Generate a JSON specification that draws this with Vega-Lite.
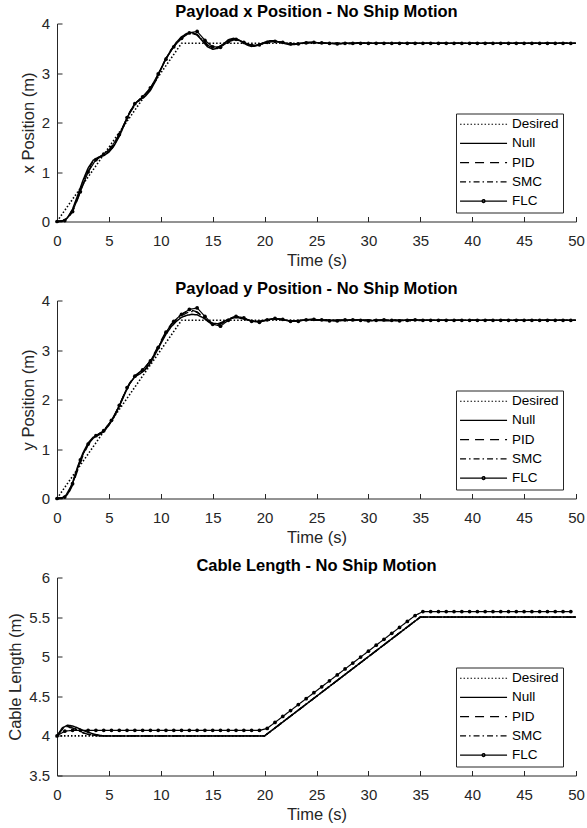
{
"$schema": "https://vega.github.io/schema/vega-lite/v6.json",
"padding": {"top": 3.5, "left": 7, "right": 3, "bottom": 4},
"spacing": 11,
"config": {
  "font": "Liberation Sans",
  "view": {"stroke": null},
  "axis": {"grid": false, "domainColor": "#262626", "tickColor": "#262626", "labelColor": "#262626", "titleColor": "#262626", "labelFontSize": 15, "titleFontSize": 16.5, "titleFontWeight": "normal", "tickSize": -5, "domainWidth": 1, "tickWidth": 1, "labelFlush": false, "labelOverlap": false},
  "axisX": {"labelPadding": 17, "titlePadding": 4},
  "axisY": {"labelPadding": 12.3, "titlePadding": 5},
  "title": {"fontSize": 16.5, "fontWeight": "bold", "color": "black", "offset": -3.5, "anchor": "middle"},
  "legend": {"padding": 4, "strokeColor": "#262626", "fillColor": "white", "symbolSize": 100, "symbolStrokeWidth": 1.2, "symbolOffset": 16.8, "labelOffset": 21.6, "labelFontSize": 13.5, "labelColor": "black", "rowPadding": 4.2, "symbolStrokeColor": "black", "symbolFillColor": "black", "symbolOpacity": 1}
},
"resolve": {"scale": {"y": "independent", "strokeDash": "independent", "shape": "independent"}, "legend": {"strokeDash": "independent", "shape": "independent"}},
"datasets": {
"p1": [
{"s":"Desired","t":0,"v":0},{"s":"Desired","t":12,"v":3.6},{"s":"Desired","t":50,"v":3.6},
{"s":"Null","t":0,"v":0},{"s":"Null","t":0.5,"v":0.01},{"s":"Null","t":1,"v":0.07},{"s":"Null","t":1.5,"v":0.25},{"s":"Null","t":2,"v":0.53},{"s":"Null","t":2.5,"v":0.83},{"s":"Null","t":3,"v":1.08},{"s":"Null","t":3.5,"v":1.24},{"s":"Null","t":4,"v":1.3},{"s":"Null","t":4.5,"v":1.33},{"s":"Null","t":5,"v":1.4},{"s":"Null","t":5.5,"v":1.53},{"s":"Null","t":6,"v":1.72},{"s":"Null","t":6.5,"v":1.96},{"s":"Null","t":7,"v":2.2},{"s":"Null","t":7.5,"v":2.38},{"s":"Null","t":8,"v":2.46},{"s":"Null","t":8.5,"v":2.53},{"s":"Null","t":9,"v":2.65},{"s":"Null","t":9.5,"v":2.84},{"s":"Null","t":10,"v":3.07},{"s":"Null","t":10.5,"v":3.29},{"s":"Null","t":11,"v":3.47},{"s":"Null","t":11.5,"v":3.62},{"s":"Null","t":12,"v":3.73},{"s":"Null","t":12.5,"v":3.8},{"s":"Null","t":13,"v":3.82},{"s":"Null","t":13.5,"v":3.77},{"s":"Null","t":14,"v":3.65},{"s":"Null","t":14.5,"v":3.53},{"s":"Null","t":15,"v":3.48},{"s":"Null","t":15.5,"v":3.5},{"s":"Null","t":16,"v":3.58},{"s":"Null","t":16.5,"v":3.67},{"s":"Null","t":17,"v":3.7},{"s":"Null","t":17.5,"v":3.67},{"s":"Null","t":18,"v":3.6},{"s":"Null","t":18.5,"v":3.55},{"s":"Null","t":19,"v":3.54},{"s":"Null","t":19.5,"v":3.57},{"s":"Null","t":20,"v":3.62},{"s":"Null","t":20.5,"v":3.65},{"s":"Null","t":21,"v":3.65},{"s":"Null","t":21.5,"v":3.62},{"s":"Null","t":22,"v":3.59},{"s":"Null","t":22.5,"v":3.57},{"s":"Null","t":23,"v":3.58},{"s":"Null","t":23.5,"v":3.6},{"s":"Null","t":24,"v":3.62},{"s":"Null","t":24.5,"v":3.62},{"s":"Null","t":25,"v":3.61},{"s":"Null","t":26,"v":3.6},{"s":"Null","t":27,"v":3.59},{"s":"Null","t":28,"v":3.6},{"s":"Null","t":29,"v":3.61},{"s":"Null","t":30,"v":3.6},{"s":"Null","t":32,"v":3.6},{"s":"Null","t":34,"v":3.6},{"s":"Null","t":36,"v":3.6},{"s":"Null","t":38,"v":3.6},{"s":"Null","t":40,"v":3.6},{"s":"Null","t":42,"v":3.6},{"s":"Null","t":44,"v":3.6},{"s":"Null","t":46,"v":3.6},{"s":"Null","t":48,"v":3.6},{"s":"Null","t":50,"v":3.6},
{"s":"PID","t":0,"v":0},{"s":"PID","t":0.5,"v":0.01},{"s":"PID","t":1,"v":0.05},{"s":"PID","t":1.5,"v":0.2},{"s":"PID","t":2,"v":0.46},{"s":"PID","t":2.5,"v":0.75},{"s":"PID","t":3,"v":1.01},{"s":"PID","t":3.5,"v":1.19},{"s":"PID","t":4,"v":1.28},{"s":"PID","t":4.5,"v":1.34},{"s":"PID","t":5,"v":1.43},{"s":"PID","t":5.5,"v":1.57},{"s":"PID","t":6,"v":1.76},{"s":"PID","t":6.5,"v":1.98},{"s":"PID","t":7,"v":2.19},{"s":"PID","t":7.5,"v":2.35},{"s":"PID","t":8,"v":2.46},{"s":"PID","t":8.5,"v":2.56},{"s":"PID","t":9,"v":2.69},{"s":"PID","t":9.5,"v":2.87},{"s":"PID","t":10,"v":3.09},{"s":"PID","t":10.5,"v":3.3},{"s":"PID","t":11,"v":3.47},{"s":"PID","t":11.5,"v":3.6},{"s":"PID","t":12,"v":3.71},{"s":"PID","t":12.5,"v":3.78},{"s":"PID","t":13,"v":3.8},{"s":"PID","t":13.5,"v":3.77},{"s":"PID","t":14,"v":3.67},{"s":"PID","t":14.5,"v":3.56},{"s":"PID","t":15,"v":3.51},{"s":"PID","t":15.5,"v":3.52},{"s":"PID","t":16,"v":3.58},{"s":"PID","t":16.5,"v":3.65},{"s":"PID","t":17,"v":3.68},{"s":"PID","t":17.5,"v":3.66},{"s":"PID","t":18,"v":3.61},{"s":"PID","t":18.5,"v":3.57},{"s":"PID","t":19,"v":3.56},{"s":"PID","t":19.5,"v":3.58},{"s":"PID","t":20,"v":3.61},{"s":"PID","t":20.5,"v":3.63},{"s":"PID","t":21,"v":3.64},{"s":"PID","t":21.5,"v":3.62},{"s":"PID","t":22,"v":3.6},{"s":"PID","t":22.5,"v":3.58},{"s":"PID","t":23,"v":3.59},{"s":"PID","t":23.5,"v":3.6},{"s":"PID","t":24,"v":3.61},{"s":"PID","t":24.5,"v":3.61},{"s":"PID","t":25,"v":3.6},{"s":"PID","t":26,"v":3.6},{"s":"PID","t":27,"v":3.6},{"s":"PID","t":28,"v":3.59},{"s":"PID","t":29,"v":3.6},{"s":"PID","t":30,"v":3.6},{"s":"PID","t":32,"v":3.6},{"s":"PID","t":34,"v":3.6},{"s":"PID","t":36,"v":3.6},{"s":"PID","t":38,"v":3.6},{"s":"PID","t":40,"v":3.6},{"s":"PID","t":42,"v":3.6},{"s":"PID","t":44,"v":3.6},{"s":"PID","t":46,"v":3.6},{"s":"PID","t":48,"v":3.6},{"s":"PID","t":50,"v":3.6},
{"s":"SMC","t":0,"v":0},{"s":"SMC","t":0.5,"v":0.01},{"s":"SMC","t":1,"v":0.06},{"s":"SMC","t":1.5,"v":0.23},{"s":"SMC","t":2,"v":0.5},{"s":"SMC","t":2.5,"v":0.79},{"s":"SMC","t":3,"v":1.05},{"s":"SMC","t":3.5,"v":1.22},{"s":"SMC","t":4,"v":1.3},{"s":"SMC","t":4.5,"v":1.35},{"s":"SMC","t":5,"v":1.42},{"s":"SMC","t":5.5,"v":1.55},{"s":"SMC","t":6,"v":1.74},{"s":"SMC","t":6.5,"v":1.97},{"s":"SMC","t":7,"v":2.21},{"s":"SMC","t":7.5,"v":2.38},{"s":"SMC","t":8,"v":2.48},{"s":"SMC","t":8.5,"v":2.55},{"s":"SMC","t":9,"v":2.66},{"s":"SMC","t":9.5,"v":2.85},{"s":"SMC","t":10,"v":3.08},{"s":"SMC","t":10.5,"v":3.29},{"s":"SMC","t":11,"v":3.46},{"s":"SMC","t":11.5,"v":3.6},{"s":"SMC","t":12,"v":3.71},{"s":"SMC","t":12.5,"v":3.79},{"s":"SMC","t":13,"v":3.81},{"s":"SMC","t":13.5,"v":3.78},{"s":"SMC","t":14,"v":3.68},{"s":"SMC","t":14.5,"v":3.57},{"s":"SMC","t":15,"v":3.51},{"s":"SMC","t":15.5,"v":3.52},{"s":"SMC","t":16,"v":3.57},{"s":"SMC","t":16.5,"v":3.64},{"s":"SMC","t":17,"v":3.68},{"s":"SMC","t":17.5,"v":3.67},{"s":"SMC","t":18,"v":3.62},{"s":"SMC","t":18.5,"v":3.57},{"s":"SMC","t":19,"v":3.55},{"s":"SMC","t":19.5,"v":3.57},{"s":"SMC","t":20,"v":3.6},{"s":"SMC","t":20.5,"v":3.63},{"s":"SMC","t":21,"v":3.64},{"s":"SMC","t":21.5,"v":3.63},{"s":"SMC","t":22,"v":3.6},{"s":"SMC","t":22.5,"v":3.58},{"s":"SMC","t":23,"v":3.58},{"s":"SMC","t":23.5,"v":3.59},{"s":"SMC","t":24,"v":3.61},{"s":"SMC","t":24.5,"v":3.62},{"s":"SMC","t":25,"v":3.61},{"s":"SMC","t":26,"v":3.6},{"s":"SMC","t":27,"v":3.6},{"s":"SMC","t":28,"v":3.6},{"s":"SMC","t":29,"v":3.6},{"s":"SMC","t":30,"v":3.6},{"s":"SMC","t":32,"v":3.6},{"s":"SMC","t":34,"v":3.6},{"s":"SMC","t":36,"v":3.6},{"s":"SMC","t":38,"v":3.6},{"s":"SMC","t":40,"v":3.6},{"s":"SMC","t":42,"v":3.6},{"s":"SMC","t":44,"v":3.6},{"s":"SMC","t":46,"v":3.6},{"s":"SMC","t":48,"v":3.6},{"s":"SMC","t":50,"v":3.6},
{"s":"FLC","t":0,"v":0},{"s":"FLC","t":0.75,"v":0.02},{"s":"FLC","t":1.5,"v":0.2},{"s":"FLC","t":2.25,"v":0.6},{"s":"FLC","t":3,"v":1.0},{"s":"FLC","t":3.75,"v":1.25},{"s":"FLC","t":4.5,"v":1.36},{"s":"FLC","t":5.25,"v":1.5},{"s":"FLC","t":6,"v":1.76},{"s":"FLC","t":6.75,"v":2.1},{"s":"FLC","t":7.5,"v":2.38},{"s":"FLC","t":8.25,"v":2.52},{"s":"FLC","t":9,"v":2.7},{"s":"FLC","t":9.75,"v":2.98},{"s":"FLC","t":10.5,"v":3.28},{"s":"FLC","t":11.25,"v":3.53},{"s":"FLC","t":12,"v":3.7},{"s":"FLC","t":12.75,"v":3.81},{"s":"FLC","t":13.5,"v":3.84},{"s":"FLC","t":14.25,"v":3.66},{"s":"FLC","t":15,"v":3.53},{"s":"FLC","t":15.75,"v":3.52},{"s":"FLC","t":16.5,"v":3.63},{"s":"FLC","t":17.25,"v":3.68},{"s":"FLC","t":18,"v":3.62},{"s":"FLC","t":18.75,"v":3.56},{"s":"FLC","t":19.5,"v":3.57},{"s":"FLC","t":20.25,"v":3.62},{"s":"FLC","t":21,"v":3.64},{"s":"FLC","t":21.75,"v":3.62},{"s":"FLC","t":22.5,"v":3.59},{"s":"FLC","t":23.25,"v":3.59},{"s":"FLC","t":24,"v":3.61},{"s":"FLC","t":24.75,"v":3.62},{"s":"FLC","t":25.5,"v":3.61},{"s":"FLC","t":26.25,"v":3.6},{"s":"FLC","t":27,"v":3.59},{"s":"FLC","t":27.75,"v":3.6},{"s":"FLC","t":28.5,"v":3.6},{"s":"FLC","t":29.25,"v":3.6},{"s":"FLC","t":30,"v":3.6},{"s":"FLC","t":30.75,"v":3.6},{"s":"FLC","t":31.5,"v":3.6},{"s":"FLC","t":32.25,"v":3.6},{"s":"FLC","t":33,"v":3.6},{"s":"FLC","t":33.75,"v":3.6},{"s":"FLC","t":34.5,"v":3.6},{"s":"FLC","t":35.25,"v":3.6},{"s":"FLC","t":36,"v":3.6},{"s":"FLC","t":36.75,"v":3.6},{"s":"FLC","t":37.5,"v":3.6},{"s":"FLC","t":38.25,"v":3.6},{"s":"FLC","t":39,"v":3.6},{"s":"FLC","t":39.75,"v":3.6},{"s":"FLC","t":40.5,"v":3.6},{"s":"FLC","t":41.25,"v":3.6},{"s":"FLC","t":42,"v":3.6},{"s":"FLC","t":42.75,"v":3.6},{"s":"FLC","t":43.5,"v":3.6},{"s":"FLC","t":44.25,"v":3.6},{"s":"FLC","t":45,"v":3.6},{"s":"FLC","t":45.75,"v":3.6},{"s":"FLC","t":46.5,"v":3.6},{"s":"FLC","t":47.25,"v":3.6},{"s":"FLC","t":48,"v":3.6},{"s":"FLC","t":48.75,"v":3.6},{"s":"FLC","t":49.5,"v":3.6}
],
"p2": [
{"s":"Desired","t":0,"v":0},{"s":"Desired","t":12,"v":3.6},{"s":"Desired","t":50,"v":3.6},
{"s":"Null","t":0,"v":0},{"s":"Null","t":0.5,"v":0.01},{"s":"Null","t":1,"v":0.08},{"s":"Null","t":1.5,"v":0.32},{"s":"Null","t":2,"v":0.65},{"s":"Null","t":2.5,"v":0.92},{"s":"Null","t":3,"v":1.12},{"s":"Null","t":3.5,"v":1.24},{"s":"Null","t":4,"v":1.28},{"s":"Null","t":4.5,"v":1.35},{"s":"Null","t":5,"v":1.48},{"s":"Null","t":5.5,"v":1.65},{"s":"Null","t":6,"v":1.86},{"s":"Null","t":6.5,"v":2.1},{"s":"Null","t":7,"v":2.32},{"s":"Null","t":7.5,"v":2.46},{"s":"Null","t":8,"v":2.52},{"s":"Null","t":8.5,"v":2.6},{"s":"Null","t":9,"v":2.74},{"s":"Null","t":9.5,"v":2.93},{"s":"Null","t":10,"v":3.13},{"s":"Null","t":10.5,"v":3.32},{"s":"Null","t":11,"v":3.47},{"s":"Null","t":11.5,"v":3.58},{"s":"Null","t":12,"v":3.66},{"s":"Null","t":12.5,"v":3.7},{"s":"Null","t":13,"v":3.72},{"s":"Null","t":13.5,"v":3.71},{"s":"Null","t":14,"v":3.66},{"s":"Null","t":14.5,"v":3.6},{"s":"Null","t":15,"v":3.54},{"s":"Null","t":15.5,"v":3.53},{"s":"Null","t":16,"v":3.57},{"s":"Null","t":16.5,"v":3.62},{"s":"Null","t":17,"v":3.65},{"s":"Null","t":17.5,"v":3.65},{"s":"Null","t":18,"v":3.63},{"s":"Null","t":18.5,"v":3.6},{"s":"Null","t":19,"v":3.58},{"s":"Null","t":19.5,"v":3.58},{"s":"Null","t":20,"v":3.6},{"s":"Null","t":20.5,"v":3.62},{"s":"Null","t":21,"v":3.63},{"s":"Null","t":21.5,"v":3.62},{"s":"Null","t":22,"v":3.6},{"s":"Null","t":22.5,"v":3.59},{"s":"Null","t":23,"v":3.59},{"s":"Null","t":23.5,"v":3.6},{"s":"Null","t":24,"v":3.61},{"s":"Null","t":24.5,"v":3.61},{"s":"Null","t":25,"v":3.6},{"s":"Null","t":26,"v":3.61},{"s":"Null","t":27,"v":3.59},{"s":"Null","t":28,"v":3.6},{"s":"Null","t":29,"v":3.61},{"s":"Null","t":30,"v":3.6},{"s":"Null","t":32,"v":3.59},{"s":"Null","t":34,"v":3.61},{"s":"Null","t":36,"v":3.6},{"s":"Null","t":38,"v":3.6},{"s":"Null","t":40,"v":3.6},{"s":"Null","t":42,"v":3.6},{"s":"Null","t":44,"v":3.6},{"s":"Null","t":46,"v":3.6},{"s":"Null","t":48,"v":3.6},{"s":"Null","t":50,"v":3.6},
{"s":"PID","t":0,"v":0},{"s":"PID","t":0.5,"v":0.01},{"s":"PID","t":1,"v":0.06},{"s":"PID","t":1.5,"v":0.27},{"s":"PID","t":2,"v":0.58},{"s":"PID","t":2.5,"v":0.87},{"s":"PID","t":3,"v":1.08},{"s":"PID","t":3.5,"v":1.22},{"s":"PID","t":4,"v":1.3},{"s":"PID","t":4.5,"v":1.38},{"s":"PID","t":5,"v":1.5},{"s":"PID","t":5.5,"v":1.66},{"s":"PID","t":6,"v":1.88},{"s":"PID","t":6.5,"v":2.12},{"s":"PID","t":7,"v":2.33},{"s":"PID","t":7.5,"v":2.48},{"s":"PID","t":8,"v":2.56},{"s":"PID","t":8.5,"v":2.65},{"s":"PID","t":9,"v":2.79},{"s":"PID","t":9.5,"v":2.98},{"s":"PID","t":10,"v":3.18},{"s":"PID","t":10.5,"v":3.37},{"s":"PID","t":11,"v":3.52},{"s":"PID","t":11.5,"v":3.64},{"s":"PID","t":12,"v":3.72},{"s":"PID","t":12.5,"v":3.78},{"s":"PID","t":13,"v":3.8},{"s":"PID","t":13.5,"v":3.77},{"s":"PID","t":14,"v":3.68},{"s":"PID","t":14.5,"v":3.58},{"s":"PID","t":15,"v":3.51},{"s":"PID","t":15.5,"v":3.5},{"s":"PID","t":16,"v":3.55},{"s":"PID","t":16.5,"v":3.62},{"s":"PID","t":17,"v":3.67},{"s":"PID","t":17.5,"v":3.67},{"s":"PID","t":18,"v":3.64},{"s":"PID","t":18.5,"v":3.6},{"s":"PID","t":19,"v":3.57},{"s":"PID","t":19.5,"v":3.57},{"s":"PID","t":20,"v":3.59},{"s":"PID","t":20.5,"v":3.62},{"s":"PID","t":21,"v":3.63},{"s":"PID","t":21.5,"v":3.62},{"s":"PID","t":22,"v":3.6},{"s":"PID","t":22.5,"v":3.58},{"s":"PID","t":23,"v":3.58},{"s":"PID","t":23.5,"v":3.6},{"s":"PID","t":24,"v":3.61},{"s":"PID","t":24.5,"v":3.62},{"s":"PID","t":25,"v":3.61},{"s":"PID","t":26,"v":3.59},{"s":"PID","t":27,"v":3.6},{"s":"PID","t":28,"v":3.61},{"s":"PID","t":29,"v":3.6},{"s":"PID","t":30,"v":3.59},{"s":"PID","t":32,"v":3.61},{"s":"PID","t":34,"v":3.6},{"s":"PID","t":36,"v":3.6},{"s":"PID","t":38,"v":3.6},{"s":"PID","t":40,"v":3.6},{"s":"PID","t":42,"v":3.6},{"s":"PID","t":44,"v":3.6},{"s":"PID","t":46,"v":3.6},{"s":"PID","t":48,"v":3.6},{"s":"PID","t":50,"v":3.6},
{"s":"SMC","t":0,"v":0},{"s":"SMC","t":0.5,"v":0.01},{"s":"SMC","t":1,"v":0.07},{"s":"SMC","t":1.5,"v":0.3},{"s":"SMC","t":2,"v":0.62},{"s":"SMC","t":2.5,"v":0.9},{"s":"SMC","t":3,"v":1.1},{"s":"SMC","t":3.5,"v":1.23},{"s":"SMC","t":4,"v":1.29},{"s":"SMC","t":4.5,"v":1.36},{"s":"SMC","t":5,"v":1.49},{"s":"SMC","t":5.5,"v":1.66},{"s":"SMC","t":6,"v":1.87},{"s":"SMC","t":6.5,"v":2.11},{"s":"SMC","t":7,"v":2.33},{"s":"SMC","t":7.5,"v":2.47},{"s":"SMC","t":8,"v":2.54},{"s":"SMC","t":8.5,"v":2.62},{"s":"SMC","t":9,"v":2.76},{"s":"SMC","t":9.5,"v":2.95},{"s":"SMC","t":10,"v":3.15},{"s":"SMC","t":10.5,"v":3.34},{"s":"SMC","t":11,"v":3.5},{"s":"SMC","t":11.5,"v":3.61},{"s":"SMC","t":12,"v":3.69},{"s":"SMC","t":12.5,"v":3.75},{"s":"SMC","t":13,"v":3.78},{"s":"SMC","t":13.5,"v":3.76},{"s":"SMC","t":14,"v":3.68},{"s":"SMC","t":14.5,"v":3.59},{"s":"SMC","t":15,"v":3.52},{"s":"SMC","t":15.5,"v":3.52},{"s":"SMC","t":16,"v":3.56},{"s":"SMC","t":16.5,"v":3.62},{"s":"SMC","t":17,"v":3.66},{"s":"SMC","t":17.5,"v":3.66},{"s":"SMC","t":18,"v":3.63},{"s":"SMC","t":18.5,"v":3.6},{"s":"SMC","t":19,"v":3.58},{"s":"SMC","t":19.5,"v":3.58},{"s":"SMC","t":20,"v":3.6},{"s":"SMC","t":20.5,"v":3.62},{"s":"SMC","t":21,"v":3.63},{"s":"SMC","t":21.5,"v":3.62},{"s":"SMC","t":22,"v":3.6},{"s":"SMC","t":22.5,"v":3.59},{"s":"SMC","t":23,"v":3.59},{"s":"SMC","t":23.5,"v":3.6},{"s":"SMC","t":24,"v":3.61},{"s":"SMC","t":24.5,"v":3.61},{"s":"SMC","t":25,"v":3.6},{"s":"SMC","t":26,"v":3.6},{"s":"SMC","t":27,"v":3.61},{"s":"SMC","t":28,"v":3.59},{"s":"SMC","t":29,"v":3.6},{"s":"SMC","t":30,"v":3.61},{"s":"SMC","t":32,"v":3.6},{"s":"SMC","t":34,"v":3.59},{"s":"SMC","t":36,"v":3.6},{"s":"SMC","t":38,"v":3.6},{"s":"SMC","t":40,"v":3.6},{"s":"SMC","t":42,"v":3.6},{"s":"SMC","t":44,"v":3.6},{"s":"SMC","t":46,"v":3.6},{"s":"SMC","t":48,"v":3.6},{"s":"SMC","t":50,"v":3.6},
{"s":"FLC","t":0,"v":0},{"s":"FLC","t":0.75,"v":0.03},{"s":"FLC","t":1.5,"v":0.3},{"s":"FLC","t":2.25,"v":0.78},{"s":"FLC","t":3,"v":1.1},{"s":"FLC","t":3.75,"v":1.27},{"s":"FLC","t":4.5,"v":1.37},{"s":"FLC","t":5.25,"v":1.58},{"s":"FLC","t":6,"v":1.88},{"s":"FLC","t":6.75,"v":2.24},{"s":"FLC","t":7.5,"v":2.47},{"s":"FLC","t":8.25,"v":2.6},{"s":"FLC","t":9,"v":2.78},{"s":"FLC","t":9.75,"v":3.05},{"s":"FLC","t":10.5,"v":3.36},{"s":"FLC","t":11.25,"v":3.58},{"s":"FLC","t":12,"v":3.72},{"s":"FLC","t":12.75,"v":3.82},{"s":"FLC","t":13.5,"v":3.85},{"s":"FLC","t":14.25,"v":3.68},{"s":"FLC","t":15,"v":3.52},{"s":"FLC","t":15.75,"v":3.48},{"s":"FLC","t":16.5,"v":3.6},{"s":"FLC","t":17.25,"v":3.68},{"s":"FLC","t":18,"v":3.65},{"s":"FLC","t":18.75,"v":3.58},{"s":"FLC","t":19.5,"v":3.56},{"s":"FLC","t":20.25,"v":3.61},{"s":"FLC","t":21,"v":3.64},{"s":"FLC","t":21.75,"v":3.62},{"s":"FLC","t":22.5,"v":3.58},{"s":"FLC","t":23.25,"v":3.58},{"s":"FLC","t":24,"v":3.61},{"s":"FLC","t":24.75,"v":3.62},{"s":"FLC","t":25.5,"v":3.61},{"s":"FLC","t":26.25,"v":3.59},{"s":"FLC","t":27,"v":3.59},{"s":"FLC","t":27.75,"v":3.61},{"s":"FLC","t":28.5,"v":3.61},{"s":"FLC","t":29.25,"v":3.6},{"s":"FLC","t":30,"v":3.59},{"s":"FLC","t":30.75,"v":3.6},{"s":"FLC","t":31.5,"v":3.61},{"s":"FLC","t":32.25,"v":3.6},{"s":"FLC","t":33,"v":3.59},{"s":"FLC","t":33.75,"v":3.6},{"s":"FLC","t":34.5,"v":3.61},{"s":"FLC","t":35.25,"v":3.6},{"s":"FLC","t":36,"v":3.6},{"s":"FLC","t":36.75,"v":3.6},{"s":"FLC","t":37.5,"v":3.6},{"s":"FLC","t":38.25,"v":3.6},{"s":"FLC","t":39,"v":3.6},{"s":"FLC","t":39.75,"v":3.6},{"s":"FLC","t":40.5,"v":3.6},{"s":"FLC","t":41.25,"v":3.6},{"s":"FLC","t":42,"v":3.6},{"s":"FLC","t":42.75,"v":3.6},{"s":"FLC","t":43.5,"v":3.6},{"s":"FLC","t":44.25,"v":3.6},{"s":"FLC","t":45,"v":3.6},{"s":"FLC","t":45.75,"v":3.6},{"s":"FLC","t":46.5,"v":3.6},{"s":"FLC","t":47.25,"v":3.6},{"s":"FLC","t":48,"v":3.6},{"s":"FLC","t":48.75,"v":3.6},{"s":"FLC","t":49.5,"v":3.6}
],
"p3": [
{"s":"Desired","t":0,"v":4},{"s":"Desired","t":20,"v":4},{"s":"Desired","t":35,"v":5.5},{"s":"Desired","t":50,"v":5.5},
{"s":"Null","t":0,"v":4},{"s":"Null","t":0.5,"v":4.1},{"s":"Null","t":1,"v":4.135},{"s":"Null","t":1.5,"v":4.125},{"s":"Null","t":2,"v":4.1},{"s":"Null","t":2.5,"v":4.07},{"s":"Null","t":3,"v":4.045},{"s":"Null","t":3.5,"v":4.025},{"s":"Null","t":4,"v":4.01},{"s":"Null","t":4.5,"v":4.0},{"s":"Null","t":20,"v":4.0},{"s":"Null","t":35,"v":5.5},{"s":"Null","t":50,"v":5.5},
{"s":"PID","t":0,"v":4},{"s":"PID","t":0.5,"v":4.08},{"s":"PID","t":1,"v":4.11},{"s":"PID","t":1.5,"v":4.1},{"s":"PID","t":2,"v":4.07},{"s":"PID","t":2.5,"v":4.04},{"s":"PID","t":3,"v":4.02},{"s":"PID","t":4,"v":4.0},{"s":"PID","t":20,"v":4.0},{"s":"PID","t":35,"v":5.5},{"s":"PID","t":50,"v":5.5},
{"s":"SMC","t":0,"v":4},{"s":"SMC","t":0.5,"v":4.09},{"s":"SMC","t":1,"v":4.12},{"s":"SMC","t":1.5,"v":4.11},{"s":"SMC","t":2,"v":4.08},{"s":"SMC","t":2.5,"v":4.04},{"s":"SMC","t":3,"v":4.02},{"s":"SMC","t":4,"v":4.0},{"s":"SMC","t":20,"v":4.0},{"s":"SMC","t":35,"v":5.5},{"s":"SMC","t":50,"v":5.5},
{"s":"FLC","t":0,"v":4},{"s":"FLC","t":0.75,"v":4.06},{"s":"FLC","t":1.5,"v":4.07},{"s":"FLC","t":2.25,"v":4.07},{"s":"FLC","t":3,"v":4.07},{"s":"FLC","t":3.75,"v":4.07},{"s":"FLC","t":4.5,"v":4.07},{"s":"FLC","t":5.25,"v":4.07},{"s":"FLC","t":6,"v":4.07},{"s":"FLC","t":6.75,"v":4.07},{"s":"FLC","t":7.5,"v":4.07},{"s":"FLC","t":8.25,"v":4.07},{"s":"FLC","t":9,"v":4.07},{"s":"FLC","t":9.75,"v":4.07},{"s":"FLC","t":10.5,"v":4.07},{"s":"FLC","t":11.25,"v":4.07},{"s":"FLC","t":12,"v":4.07},{"s":"FLC","t":12.75,"v":4.07},{"s":"FLC","t":13.5,"v":4.07},{"s":"FLC","t":14.25,"v":4.07},{"s":"FLC","t":15,"v":4.07},{"s":"FLC","t":15.75,"v":4.07},{"s":"FLC","t":16.5,"v":4.07},{"s":"FLC","t":17.25,"v":4.07},{"s":"FLC","t":18,"v":4.07},{"s":"FLC","t":18.75,"v":4.07},{"s":"FLC","t":19.5,"v":4.07},{"s":"FLC","t":20.25,"v":4.095},{"s":"FLC","t":21,"v":4.17},{"s":"FLC","t":21.75,"v":4.245},{"s":"FLC","t":22.5,"v":4.32},{"s":"FLC","t":23.25,"v":4.395},{"s":"FLC","t":24,"v":4.47},{"s":"FLC","t":24.75,"v":4.545},{"s":"FLC","t":25.5,"v":4.62},{"s":"FLC","t":26.25,"v":4.695},{"s":"FLC","t":27,"v":4.77},{"s":"FLC","t":27.75,"v":4.845},{"s":"FLC","t":28.5,"v":4.92},{"s":"FLC","t":29.25,"v":4.995},{"s":"FLC","t":30,"v":5.07},{"s":"FLC","t":30.75,"v":5.145},{"s":"FLC","t":31.5,"v":5.22},{"s":"FLC","t":32.25,"v":5.295},{"s":"FLC","t":33,"v":5.37},{"s":"FLC","t":33.75,"v":5.445},{"s":"FLC","t":34.5,"v":5.52},{"s":"FLC","t":35.25,"v":5.57},{"s":"FLC","t":36,"v":5.57},{"s":"FLC","t":36.75,"v":5.57},{"s":"FLC","t":37.5,"v":5.57},{"s":"FLC","t":38.25,"v":5.57},{"s":"FLC","t":39,"v":5.57},{"s":"FLC","t":39.75,"v":5.57},{"s":"FLC","t":40.5,"v":5.57},{"s":"FLC","t":41.25,"v":5.57},{"s":"FLC","t":42,"v":5.57},{"s":"FLC","t":42.75,"v":5.57},{"s":"FLC","t":43.5,"v":5.57},{"s":"FLC","t":44.25,"v":5.57},{"s":"FLC","t":45,"v":5.57},{"s":"FLC","t":45.75,"v":5.57},{"s":"FLC","t":46.5,"v":5.57},{"s":"FLC","t":47.25,"v":5.57},{"s":"FLC","t":48,"v":5.57},{"s":"FLC","t":48.75,"v":5.57},{"s":"FLC","t":49.5,"v":5.57}
]
},
"vconcat": [
{
 "width": 519, "height": 198,
 "title": "Payload x Position - No Ship Motion",
 "data": {"name": "p1"},
 "layer": [
  {"mark": {"type": "line", "color": "black", "opacity": 1},
   "encoding": {
    "x": {"field": "t", "type": "quantitative", "scale": {"domain": [0, 50], "nice": false}, "axis": {"title": "Time (s)", "values": [0,5,10,15,20,25,30,35,40,45,50], "tickCount": 12, "format": "~g", "labelOverlap": false}},
    "y": {"field": "v", "type": "quantitative", "scale": {"domain": [0, 4], "nice": false, "zero": false}, "axis": {"title": "x Position (m)", "values": [0,1,2,3,4], "tickCount": 12, "format": "~g", "labelOverlap": false}},
    "strokeDash": {"field": "s", "type": "nominal", "scale": {"domain": ["Desired","Null","PID","SMC","FLC"], "range": [[1.5,2],[1,0],[9,6],[6,3,1.5,3],[1,0]]}, "legend": {"title": null, "orient": "none", "legendX": 399, "legendY": 90}},
    "strokeWidth": {"field": "s", "type": "nominal", "scale": {"domain": ["Desired","Null","PID","SMC","FLC"], "range": [1.6,1.2,1.2,1.2,1.2]}, "legend": null}
   }},
  {"transform": [{"filter": "datum.s == 'FLC'"}], "mark": {"type": "circle", "color": "black", "size": 14, "opacity": 1},
   "encoding": {"x": {"field": "t", "type": "quantitative"}, "y": {"field": "v", "type": "quantitative"}}},
  {"data": {"values": []}, "mark": {"type": "point", "opacity": 1, "color": "black"},
   "encoding": {"shape": {"field": "s", "type": "nominal", "scale": {"domain": ["Desired","Null","PID","SMC","FLC"], "range": ["M-4.7,0H4.7","M-4.7,0H4.7","M-4.7,0H4.7","M-4.7,0H4.7","M-4.7,0H4.7M-0.3,0A0.3,0.3,0,1,0,0.3,0A0.3,0.3,0,1,0,-0.3,0"]}, "legend": {"title": null, "orient": "none", "legendX": 399, "legendY": 90}}}}
 ]
},
{
 "width": 519, "height": 198,
 "title": "Payload y Position - No Ship Motion",
 "data": {"name": "p2"},
 "layer": [
  {"mark": {"type": "line", "color": "black", "opacity": 1},
   "encoding": {
    "x": {"field": "t", "type": "quantitative", "scale": {"domain": [0, 50], "nice": false}, "axis": {"title": "Time (s)", "values": [0,5,10,15,20,25,30,35,40,45,50], "tickCount": 12, "format": "~g", "labelOverlap": false}},
    "y": {"field": "v", "type": "quantitative", "scale": {"domain": [0, 4], "nice": false, "zero": false}, "axis": {"title": "y Position (m)", "values": [0,1,2,3,4], "tickCount": 12, "format": "~g", "labelOverlap": false}},
    "strokeDash": {"field": "s", "type": "nominal", "scale": {"domain": ["Desired","Null","PID","SMC","FLC"], "range": [[1.5,2],[1,0],[9,6],[6,3,1.5,3],[1,0]]}, "legend": {"title": null, "orient": "none", "legendX": 399, "legendY": 90}},
    "strokeWidth": {"field": "s", "type": "nominal", "scale": {"domain": ["Desired","Null","PID","SMC","FLC"], "range": [1.6,1.2,1.2,1.2,1.2]}, "legend": null}
   }},
  {"transform": [{"filter": "datum.s == 'FLC'"}], "mark": {"type": "circle", "color": "black", "size": 14, "opacity": 1},
   "encoding": {"x": {"field": "t", "type": "quantitative"}, "y": {"field": "v", "type": "quantitative"}}},
  {"data": {"values": []}, "mark": {"type": "point", "opacity": 1, "color": "black"},
   "encoding": {"shape": {"field": "s", "type": "nominal", "scale": {"domain": ["Desired","Null","PID","SMC","FLC"], "range": ["M-4.7,0H4.7","M-4.7,0H4.7","M-4.7,0H4.7","M-4.7,0H4.7","M-4.7,0H4.7M-0.3,0A0.3,0.3,0,1,0,0.3,0A0.3,0.3,0,1,0,-0.3,0"]}, "legend": {"title": null, "orient": "none", "legendX": 399, "legendY": 90}}}}
 ]
},
{
 "width": 519, "height": 198,
 "title": "Cable Length - No Ship Motion",
 "data": {"name": "p3"},
 "layer": [
  {"mark": {"type": "line", "color": "black", "opacity": 1},
   "encoding": {
    "x": {"field": "t", "type": "quantitative", "scale": {"domain": [0, 50], "nice": false}, "axis": {"title": "Time (s)", "values": [0,5,10,15,20,25,30,35,40,45,50], "tickCount": 12, "format": "~g", "labelOverlap": false}},
    "y": {"field": "v", "type": "quantitative", "scale": {"domain": [3.5, 6], "nice": false, "zero": false}, "axis": {"title": "Cable Length (m)", "values": [3.5,4,4.5,5,5.5,6], "tickCount": 12, "format": "~g", "labelOverlap": false}},
    "strokeDash": {"field": "s", "type": "nominal", "scale": {"domain": ["Desired","Null","PID","SMC","FLC"], "range": [[1.5,2],[1,0],[9,6],[6,3,1.5,3],[1,0]]}, "legend": {"title": null, "orient": "none", "legendX": 399, "legendY": 90}},
    "strokeWidth": {"field": "s", "type": "nominal", "scale": {"domain": ["Desired","Null","PID","SMC","FLC"], "range": [1.6,1.2,1.2,1.2,1.2]}, "legend": null}
   }},
  {"transform": [{"filter": "datum.s == 'FLC'"}], "mark": {"type": "circle", "color": "black", "size": 14, "opacity": 1},
   "encoding": {"x": {"field": "t", "type": "quantitative"}, "y": {"field": "v", "type": "quantitative"}}},
  {"data": {"values": []}, "mark": {"type": "point", "opacity": 1, "color": "black"},
   "encoding": {"shape": {"field": "s", "type": "nominal", "scale": {"domain": ["Desired","Null","PID","SMC","FLC"], "range": ["M-4.7,0H4.7","M-4.7,0H4.7","M-4.7,0H4.7","M-4.7,0H4.7","M-4.7,0H4.7M-0.3,0A0.3,0.3,0,1,0,0.3,0A0.3,0.3,0,1,0,-0.3,0"]}, "legend": {"title": null, "orient": "none", "legendX": 399, "legendY": 90}}}}
 ]
}
]
}
